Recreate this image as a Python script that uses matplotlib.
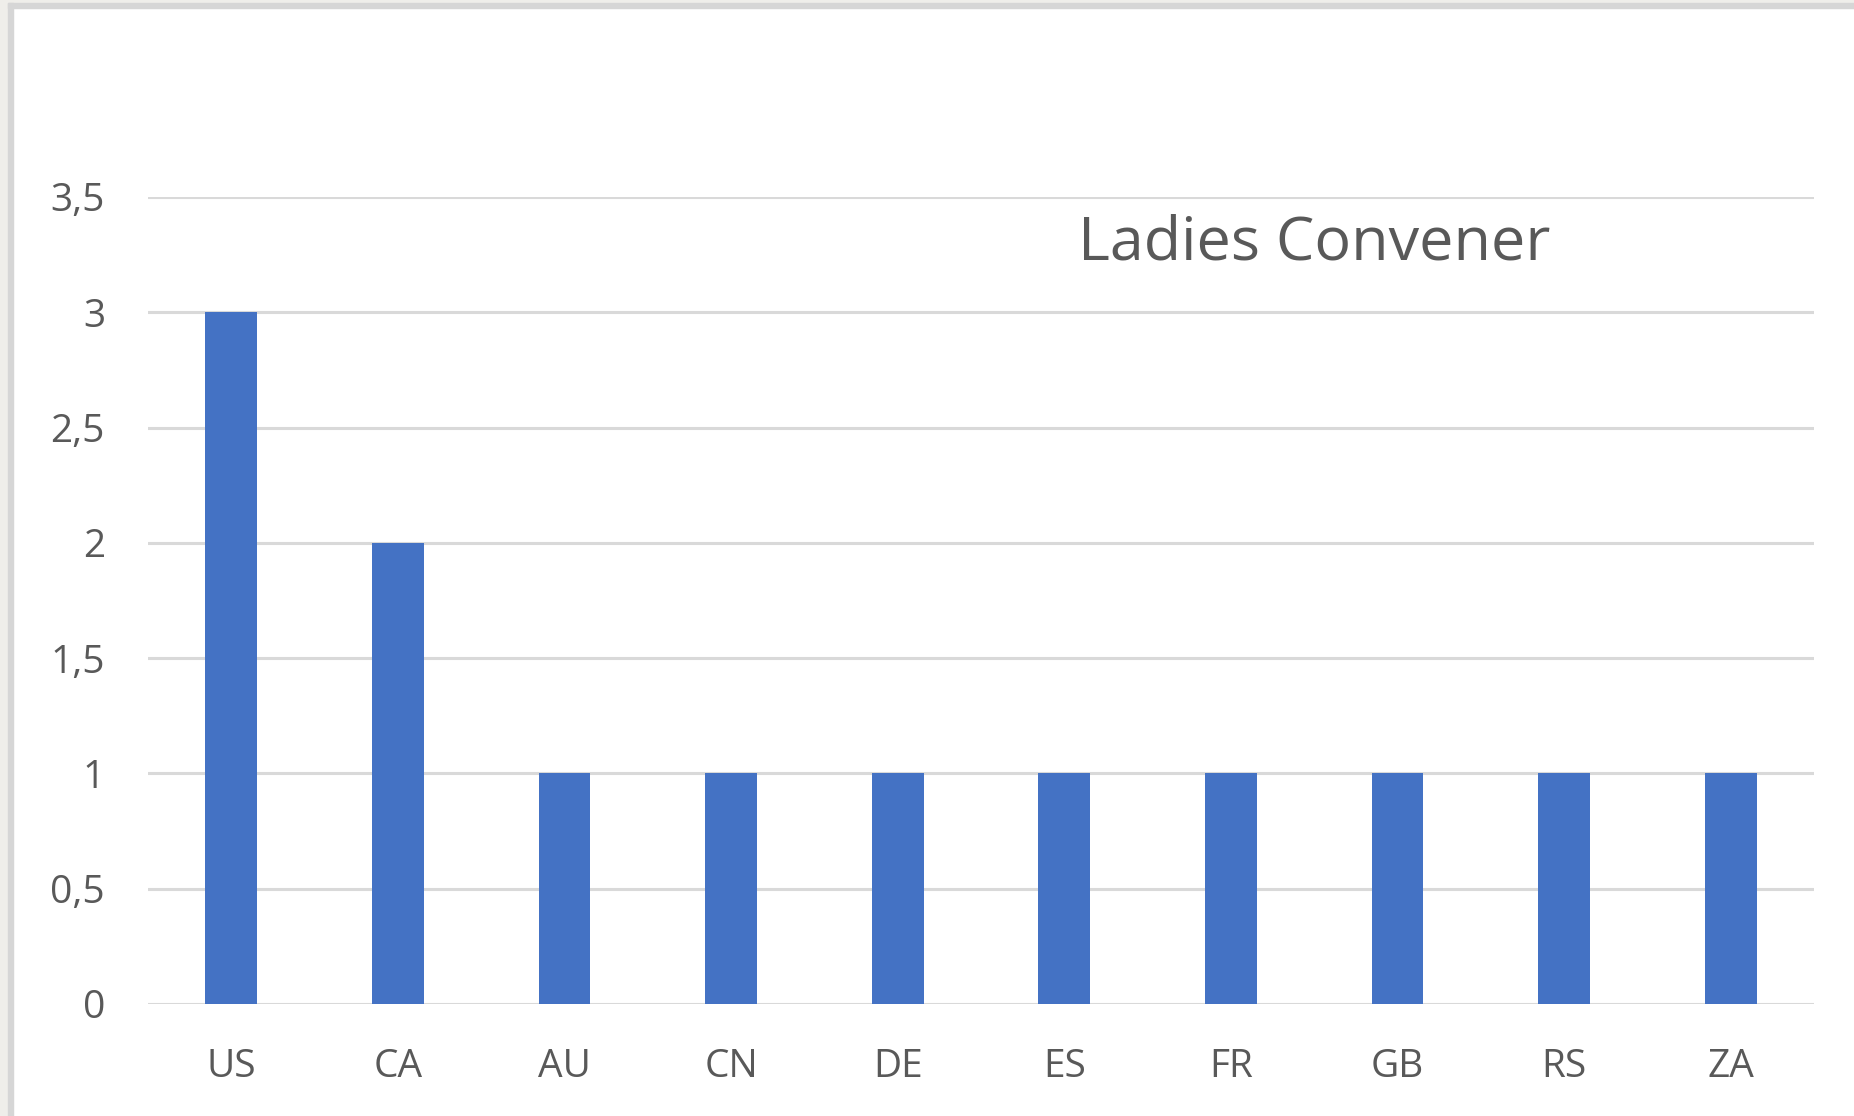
import matplotlib
matplotlib.use("Agg")
import matplotlib.pyplot as plt
from matplotlib.patches import Rectangle

categories = ["US", "CA", "AU", "CN", "DE", "ES", "FR", "GB", "RS", "ZA"]
values = [3, 2, 1, 1, 1, 1, 1, 1, 1, 1]
yticks = [0, 0.5, 1, 1.5, 2, 2.5, 3, 3.5]
ytick_labels = ["0", "0,5", "1", "1,5", "2", "2,5", "3", "3,5"]
title = "Ladies Convener"

W, H = 1854, 1116
fig = plt.figure(figsize=(W / 100, H / 100), dpi=100, facecolor="white")
plt.rcParams["font.family"] = ["Open Sans", "DejaVu Sans"]

# frame of the screenshot (grey outer strip + border line at left and top)
fig.patches.append(Rectangle((0, 0), 8 / W, 1, transform=fig.transFigure, color="#efeeea", zorder=0))
fig.patches.append(Rectangle((0, 1 - 3 / H), 1, 3 / H, transform=fig.transFigure, color="#efeeea", zorder=0))
fig.patches.append(Rectangle((8 / W, 0), 5 / W, 1 - 3 / H, transform=fig.transFigure, color="#d6d6d6", zorder=0))
fig.patches.append(Rectangle((8 / W, 1 - 8 / H), 1 - 8 / W, 5 / H, transform=fig.transFigure, color="#d6d6d6", zorder=0))

x0, x1 = 148, 1814
y_top, y_bot = 197, 1004
ax = fig.add_axes([x0 / W, 1 - y_bot / H, (x1 - x0) / W, (y_bot - y_top) / H])
ax.set_facecolor("none")

pos = list(range(len(categories)))
ax.bar(pos, values, width=0.31, color="#4472C4", zorder=3)
ax.set_xlim(-0.5, len(categories) - 0.5)
ax.set_ylim(0, 3.5)
ax.set_yticks(yticks)
ax.set_yticklabels(ytick_labels)
ax.set_xticks(pos)
ax.set_xticklabels(categories)

for s in ax.spines.values():
    s.set_visible(False)
ax.tick_params(axis="both", length=0, labelsize=28, labelcolor="#595959")
ax.tick_params(axis="y", pad=31)
ax.tick_params(axis="x", pad=32)
ax.grid(axis="y", color="#d9d9d9", linewidth=2.2, zorder=0)
ax.set_axisbelow(True)

fig.text(1314 / W, 1 - 243 / H, title, ha="center", va="center", fontsize=44, color="#595959")

fig.savefig("out.png", dpi=100, facecolor="white")
